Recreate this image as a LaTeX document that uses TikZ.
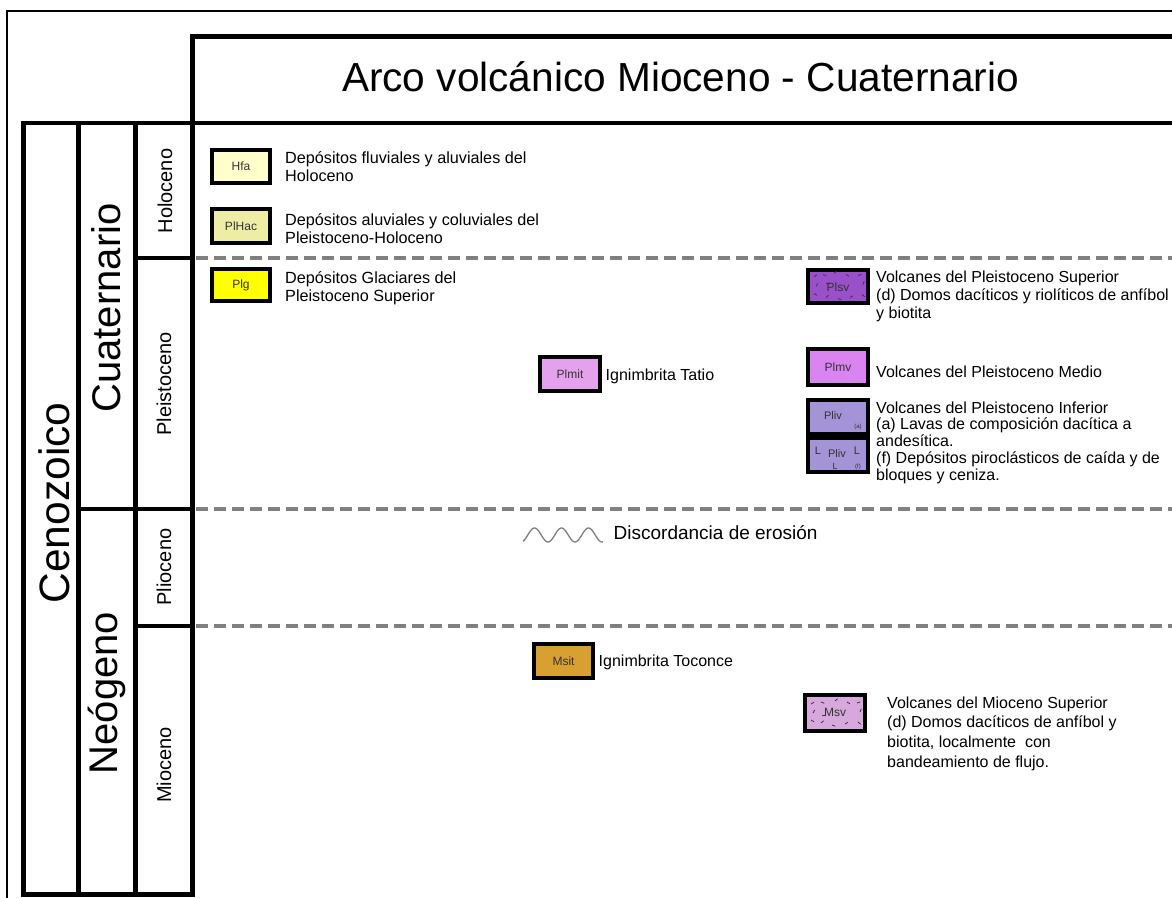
\documentclass[tikz,border=0pt]{standalone}
\usepackage{fontspec}
\setmainfont{Liberation Sans}
\definecolor{sepgray}{HTML}{808080}
\definecolor{cHfa}{HTML}{FFFFCC}
\definecolor{cPlHac}{HTML}{EEEDA6}
\definecolor{cPlg}{HTML}{FFFF00}
\definecolor{cPlmit}{HTML}{E4A2EC}
\definecolor{cPlsv}{HTML}{9A50C8}
\definecolor{cPlmv}{HTML}{DA84F2}
\definecolor{cPliv}{HTML}{A493D6}
\definecolor{cMsit}{HTML}{D8A030}
\definecolor{cMsv}{HTML}{D6A8DC}
\definecolor{labgray}{HTML}{333333}
\definecolor{patc}{HTML}{4A2A60}
\begin{document}
\begin{tikzpicture}[x=1pt,y=-1pt,
  thinframe/.style={line width=1.5pt,draw=black},
  thickframe/.style={line width=4.5pt,draw=black,line cap=rect},
  sepline/.style={draw=sepgray,line width=4pt,dash pattern=on 12pt off 6pt},
  unitbox/.style={draw=black,line width=4pt,inner sep=0pt,minimum width=60pt,minimum height=34pt,
     font=\fontsize{12}{12}\selectfont,text=labgray},
  desc/.style={anchor=north west,inner sep=0pt,align=left},
  descone/.style={anchor=base west,inner sep=0pt,font=\fontsize{16}{18}\selectfont},
  bigrot/.style={font=\fontsize{40}{40}\selectfont,rotate=90,anchor=base,inner sep=0pt},
  eprot/.style={font=\fontsize{20}{20}\selectfont,rotate=90,anchor=base,inner sep=0pt},
  pat/.style={draw=patc,line width=0.8pt},
  wave/.style={draw=sepgray,line width=1.3pt},
  tiny/.style={font=\fontsize{6}{6}\selectfont,text=labgray,inner sep=0pt},
  boxlab/.style={font=\fontsize{11}{11}\selectfont,text=labgray,inner sep=0pt}
]
\useasboundingbox (0,0) rectangle (1172,897);
\fill[white] (0,0) rectangle (1172,897);
\clip (0,0) rectangle (1172,897);

% outer thin frame
\draw[thinframe] (7,905) -- (7,11) -- (1185,11);

% dashed separators
\draw[sepline] (196,258) -- (1185,258);
\draw[sepline] (196,509) -- (1185,509);
\draw[sepline] (196,626) -- (1185,626);

% header and columns
\draw[thickframe] (192.5,123) -- (192.5,36.5) -- (1185,36.5);
\draw[thickframe] (23.3,123) -- (1185,123);
\draw[thickframe] (23.3,123) -- (23.3,894.7) -- (192.5,894.7) -- (192.5,123);
\draw[thickframe] (78.3,123) -- (78.3,894.7);
\draw[thickframe] (135.6,123) -- (135.6,894.7);
\draw[thickframe] (135.6,258) -- (192.5,258);
\draw[thickframe] (78.3,509) -- (192.5,509);
\draw[thickframe] (135.6,626) -- (192.5,626);

% title
\node[font=\fontsize{40.6}{41}\selectfont,anchor=base,inner sep=0pt] (title) at (680.5,91.5) {Arco volcánico Mioceno - Cuaternario};

% era / period / epoch labels
\node[bigrot,font=\fontsize{42.5}{43}\selectfont] (cenozoico) at (69,503) {Cenozoico};
\node[bigrot] (cuaternario) at (120,308) {Cuaternario};
\node[bigrot] (neogeno) at (117,693) {Neógeno};
\node[eprot] (holoceno) at (172,191) {Holoceno};
\node[eprot] (pleistoceno) at (171,384) {Pleistoceno};
\node[eprot] (plioceno) at (171,567) {Plioceno};
\node[eprot] (mioceno) at (171,765) {Mioceno};

% unit boxes
\node[unitbox,fill=cHfa,minimum width=58pt,minimum height=33pt] (hfa) at (241,166.5) {Hfa};
\node[unitbox,fill=cPlHac,minimum width=58pt,minimum height=34pt] (plhac) at (241,226) {PlHac};
\node[unitbox,fill=cPlg,minimum width=58pt,minimum height=32pt] (plg) at (241,285) {Plg};
\node[unitbox,fill=cPlmit] (plmit) at (570,374) {Plmit};
\node[unitbox,fill=cPlsv,minimum height=33pt] (plsv) at (838,286.5) {};
\node[unitbox,fill=cPlmv,minimum height=36pt] (plmv) at (838,367) {Plmv};
\node[unitbox,fill=cPliv] (pliva) at (838,417) {};
\node[unitbox,fill=cPliv] (plivf) at (838,455) {};
\node[unitbox,fill=cMsit,minimum width=59pt] (msit) at (563.5,661) {Msit};
\node[unitbox,fill=cMsv,minimum height=36pt] (msv) at (835,713) {};

% Plsv pattern and label
\foreach \dx/\dy/\a in {-24/-10/30,-15/-12/-20,-4/-13/40,8/-12/-30,20/-11/20,25/-2/70,24/8/-40,12/11/30,0/12/-20,-12/11/40,-24/7/-30,-22/0/60,-12/-3/0}
  \draw[pat] ([shift={(\dx,\dy)}]plsv.center) -- ++(\a:3.5pt);
\node[font=\fontsize{12}{12}\selectfont,text=labgray,inner sep=0pt] (plsvlab) at ([yshift=-1pt]plsv.center) {Plsv};

% Pliv (a) and (f)
\node[boxlab] (plivalab) at ([shift={(-5,-1)}]pliva.center) {Pliv};
\node[tiny] (plivasub) at ([shift={(20,10)}]pliva.center) {(a)};
\node[boxlab] (plivflab) at ([shift={(-1,-1)}]plivf.center) {Pliv};
\node[boxlab] (plivfl1) at ([shift={(-20,-4)}]plivf.center) {L};
\node[boxlab] (plivfl2) at ([shift={(19,-4)}]plivf.center) {L};
\node[boxlab,font=\fontsize{9}{9}\selectfont] (plivfl3) at ([shift={(-3,11)}]plivf.center) {L};
\node[tiny] (plivfsub) at ([shift={(20,12)}]plivf.center) {(f)};

% Msv pattern and label
\foreach \dx/\dy/\a in {-24/-9/30,-14/-11/-20,0/-12/40,12/-11/-30,22/-10/20,25/-1/70,23/9/-40,10/11/30,-3/12/-20,-14/10/40,-24/7/-30,-22/0/60,-13/2/0}
  \draw[pat] ([shift={(\dx,\dy)}]msv.center) -- ++(\a:3.5pt);
\node[font=\fontsize{12}{12}\selectfont,text=labgray,inner sep=0pt] (msvlab) at ([yshift=1pt]msv.center) {Msv};

% descriptions
\node[desc,font=\fontsize{16.2}{18.5}\selectfont] (dhfa) at (285,147) {\rule{0pt}{16pt}Depósitos fluviales y aluviales del\\Holoceno};
\node[desc,font=\fontsize{16.2}{18}\selectfont] (dplhac) at (285,209) {\rule{0pt}{16pt}Depósitos aluviales y coluviales del\\Pleistoceno-Holoceno};
\node[desc,font=\fontsize{16.2}{18.5}\selectfont] (dplg) at (285,267) {\rule{0pt}{16pt}Depósitos Glaciares del\\Pleistoceno Superior};
\node[descone] (dplmit) at (605.5,380) {Ignimbrita Tatio};
\node[desc,font=\fontsize{16}{18}\selectfont] (dplsv) at (876,266) {\rule{0pt}{16pt}Volcanes del Pleistoceno Superior\\(d) Domos dacíticos y riolíticos de anfíbol\\y biotita};
\node[descone] (dplmv) at (876,377) {Volcanes del Pleistoceno Medio};
\node[desc,font=\fontsize{16}{16.75}\selectfont] (dpliv) at (876,397) {\rule{0pt}{16pt}Volcanes del Pleistoceno Inferior\\(a) Lavas de composición dacítica a\\andesítica.\\(f) Depósitos piroclásticos de caída y de\\bloques y ceniza.};
\node[descone] (dmsit) at (598.5,666) {Ignimbrita Toconce};
\node[desc,font=\fontsize{16}{19.7}\selectfont] (dmsv) at (887,692) {\rule{0pt}{16pt}Volcanes del Mioceno Superior\\(d) Domos dacíticos de anfíbol y\\biotita, localmente\ \ con\\bandeamiento de flujo.};

% erosional unconformity
\draw[wave] plot[domain=523:603,samples=100,smooth] (\x,{535+7*cos((\x-521)*13.3333)});
\node[anchor=base west,inner sep=0pt,font=\fontsize{19}{19}\selectfont] (discord) at (613.5,539) {Discordancia de erosión};
\end{tikzpicture}
\end{document}
